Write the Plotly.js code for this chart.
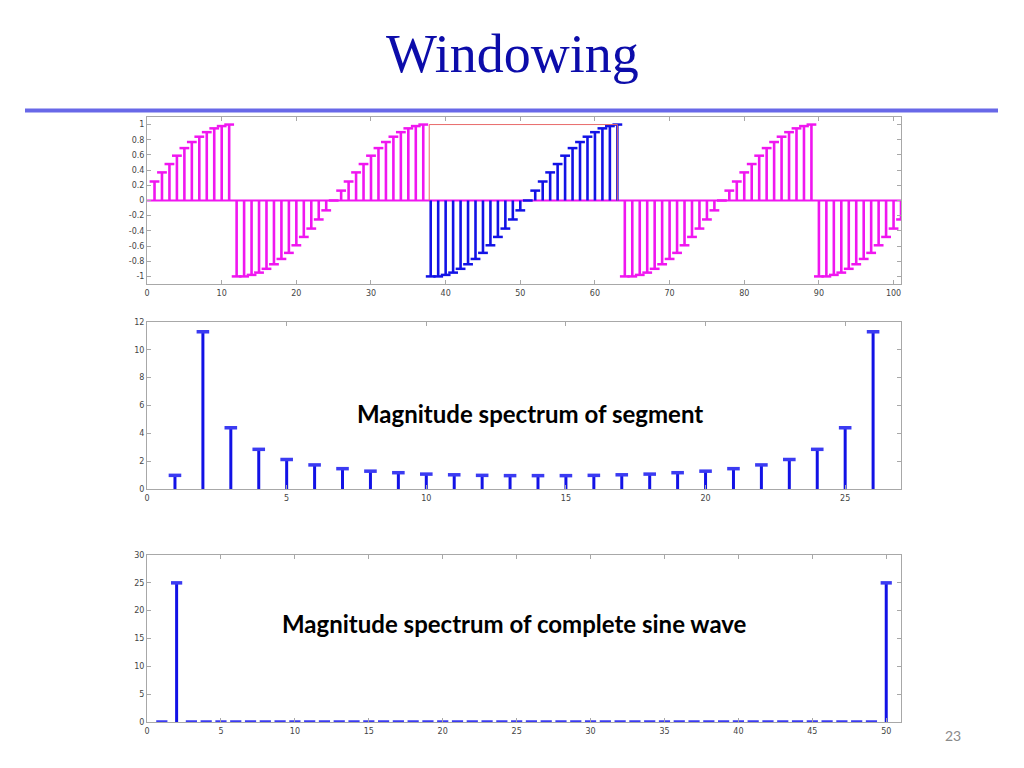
<!DOCTYPE html>
<html>
<head>
<meta charset="utf-8">
<script src="https://cdn.plot.ly/plotly-3.0.1.min.js"></script>
<style>
  html, body { margin: 0; padding: 0; background: #ffffff; }
  #chart { width: 1024px; height: 768px; }
</style>
</head>
<body>
<div id="chart"></div>
<script>
// ---------- DATA ----------
// Top panel: periodic extension of a 26-sample sine segment (samples 1..101)
const signalValues = [
  0.25, 0.37, 0.48, 0.59, 0.69, 0.77, 0.84, 0.90, 0.95, 0.98, 1.00,
  -1.00, -1.00, -0.98, -0.95, -0.90, -0.84, -0.77, -0.69, -0.59, -0.48, -0.37, -0.25, -0.13,
  0.00, 0.13, 0.25, 0.37, 0.48, 0.59, 0.69, 0.77, 0.84, 0.90, 0.95, 0.98, 1.00,
  -1.00, -1.00, -0.98, -0.95, -0.90, -0.84, -0.77, -0.69, -0.59, -0.48, -0.37, -0.25, -0.13,
  0.00, 0.13, 0.25, 0.37, 0.48, 0.59, 0.69, 0.77, 0.84, 0.90, 0.95, 0.98, 1.00,
  -1.00, -1.00, -0.98, -0.95, -0.90, -0.84, -0.77, -0.69, -0.59, -0.48, -0.37, -0.25, -0.13,
  0.00, 0.13, 0.25, 0.37, 0.48, 0.59, 0.69, 0.77, 0.84, 0.90, 0.95, 0.98, 1.00,
  -1.00, -1.00, -0.98, -0.95, -0.90, -0.84, -0.77, -0.69, -0.59, -0.48, -0.37, -0.25
];
const windowStart = 38;   // first sample of the highlighted segment
const windowEnd = 63;     // last sample of the highlighted segment
const windowBoxX = [37.8, 37.8, 63, 63];
const windowBoxY = [0, 1, 1, 0];

// Middle panel: magnitude spectrum of the 26-sample segment
const segmentSpectrum = [
  0.98, 11.3, 4.4, 2.85, 2.12, 1.73, 1.46, 1.28, 1.17, 1.07, 1.02, 0.98, 0.96,
  0.96, 0.96, 0.98, 1.02, 1.07, 1.17, 1.28, 1.46, 1.73, 2.12, 2.85, 4.4, 11.3
];

// Bottom panel: magnitude spectrum of the complete sine wave (50 samples)
const completeSpectrum = [
  0, 25, 0, 0, 0, 0, 0, 0, 0, 0, 0, 0, 0, 0, 0, 0, 0, 0, 0, 0, 0, 0, 0, 0, 0,
  0, 0, 0, 0, 0, 0, 0, 0, 0, 0, 0, 0, 0, 0, 0, 0, 0, 0, 0, 0, 0, 0, 0, 0, 25
];

// Tick values
const topXTicks = [0, 10, 20, 30, 40, 50, 60, 70, 80, 90, 100];
const topYTicks = [-1, -0.8, -0.6, -0.4, -0.2, 0, 0.2, 0.4, 0.6, 0.8, 1];
const topYTickText = ['-1', '-0.8', '-0.6', '-0.4', '-0.2', '0', '0.2', '0.4', '0.6', '0.8', '1'];
const midXTicks = [0, 5, 10, 15, 20, 25];
const midYTicks = [0, 2, 4, 6, 8, 10, 12];
const botXTicks = [0, 5, 10, 15, 20, 25, 30, 35, 40, 45, 50];
const botYTicks = [0, 5, 10, 15, 20, 25, 30];

// ---------- STYLE ----------
const MAGENTA = '#f016f0';
const BLUE = '#1212e6';
const FRAME = '#a8a8a8';

// Build stem traces (vertical lines from 0 to value) from index/value arrays
function stemLines(xs, ys, color, width, xa, ya) {
  const lx = [], ly = [];
  xs.forEach((x, i) => { lx.push(x, x, null); ly.push(0, ys[i], null); });
  return { type: 'scatter', mode: 'lines', x: lx, y: ly, xaxis: xa, yaxis: ya,
           line: { color: color, width: width }, hoverinfo: 'skip', showlegend: false };
}
function stemHeads(xs, ys, color, size, lw, xa, ya) {
  return { type: 'scatter', mode: 'markers', x: xs, y: ys, xaxis: xa, yaxis: ya,
           marker: { symbol: 'line-ew', size: size, color: color, line: { color: color, width: lw } },
           showlegend: false };
}

// Top panel split by colour
const topIdx = signalValues.map((v, i) => i + 1);
const magX = [], magY = [], winX = [], winY = [];
topIdx.forEach((n, i) => {
  if (n >= windowStart && n <= windowEnd) { winX.push(n); winY.push(signalValues[i]); }
  else { magX.push(n); magY.push(signalValues[i]); }
});
const midIdx = segmentSpectrum.map((v, i) => i + 1);
const botIdx = completeSpectrum.map((v, i) => i + 1);

const traces = [
  // baseline of top panel
  { type: 'scatter', mode: 'lines', x: [0, 101], y: [0, 0], xaxis: 'x', yaxis: 'y',
    line: { color: MAGENTA, width: 2 }, hoverinfo: 'skip', showlegend: false },
  stemLines(magX, magY, MAGENTA, 2.6, 'x', 'y'),
  stemHeads(magX, magY, MAGENTA, 7, 2.5, 'x', 'y'),
  stemLines(winX, winY, BLUE, 2.6, 'x', 'y'),
  stemHeads(winX, winY, BLUE, 7, 2.5, 'x', 'y'),
  // window box
  { type: 'scatter', mode: 'lines', x: windowBoxX, y: windowBoxY, xaxis: 'x', yaxis: 'y',
    line: { color: '#e86a6a', width: 1 }, hoverinfo: 'skip', showlegend: false },
  // middle
  stemLines(midIdx, segmentSpectrum, BLUE, 3, 'x2', 'y2'),
  stemHeads(midIdx, segmentSpectrum, '#3b3bf2', 9, 3.5, 'x2', 'y2'),
  // bottom
  stemLines(botIdx, completeSpectrum, BLUE, 3, 'x3', 'y3'),
  stemHeads(botIdx, completeSpectrum, '#3b3bf2', 8, 3.5, 'x3', 'y3')
];

const tickFont = { family: 'DejaVu Sans, sans-serif', size: 8, color: '#444444' };
function axisBase(extra) {
  return Object.assign({
    showline: true, mirror: 'ticks', linecolor: FRAME, linewidth: 1,
    ticks: 'inside', ticklen: 4, tickcolor: FRAME, tickwidth: 1,
    showgrid: false, zeroline: false, tickfont: tickFont, fixedrange: true
  }, extra);
}

const xDom = [0.1436, 0.8799];
const layout = {
  width: 1024, height: 768,
  margin: { l: 0, r: 0, t: 0, b: 0 },
  paper_bgcolor: '#ffffff', plot_bgcolor: '#ffffff',
  showlegend: false,
  xaxis: axisBase({ domain: xDom, anchor: 'y', range: [0, 101], tickvals: topXTicks, ticklabelstandoff: 1 }),
  yaxis: axisBase({ domain: [0.6302, 0.8477], anchor: 'x', range: [-1.1, 1.1], tickvals: topYTicks, ticktext: topYTickText }),
  xaxis2: axisBase({ domain: xDom, anchor: 'y2', range: [0, 27], tickvals: midXTicks, ticklabelstandoff: 1 }),
  yaxis2: axisBase({ domain: [0.3633, 0.5807], anchor: 'x2', range: [0, 12], tickvals: midYTicks }),
  xaxis3: axisBase({ domain: xDom, anchor: 'y3', range: [0, 51], tickvals: botXTicks, ticklabelstandoff: 1 }),
  yaxis3: axisBase({ domain: [0.0599, 0.2773], anchor: 'x3', range: [0, 30], tickvals: botYTicks }),
  shapes: [
    { type: 'line', xref: 'paper', yref: 'paper', x0: 25 / 1024, x1: 998 / 1024,
      y0: 1 - 110.5 / 768, y1: 1 - 110.5 / 768, line: { color: '#6868e8', width: 4 } }
  ],
  annotations: [
    { text: 'Windowing', xref: 'paper', yref: 'paper', x: 0.5, y: 1 - 54 / 768,
      xanchor: 'center', yanchor: 'middle', showarrow: false,
      font: { family: 'Liberation Serif, serif', size: 54, color: '#0c0caa' } },
    { text: 'Magnitude spectrum of segment', xref: 'paper', yref: 'paper',
      x: 529.5 / 1024, y: 1 - 413 / 768, xanchor: 'center', yanchor: 'middle', showarrow: false,
      font: { family: 'Lato, sans-serif', size: 24, color: '#000000', weight: 'bold' } },
    { text: 'Magnitude spectrum of complete sine wave', xref: 'paper', yref: 'paper',
      x: 514 / 1024, y: 1 - 623 / 768, xanchor: 'center', yanchor: 'middle', showarrow: false,
      font: { family: 'Lato, sans-serif', size: 24, color: '#000000', weight: 'bold' } },
    { text: '23', xref: 'paper', yref: 'paper', x: 953 / 1024, y: 1 - 735 / 768,
      xanchor: 'center', yanchor: 'middle', showarrow: false,
      font: { family: 'Lato, sans-serif', size: 14, color: '#8a8a8a' } }
  ]
};

Plotly.newPlot('chart', traces, layout, { staticPlot: true, displayModeBar: false });
</script>
</body>
</html>
